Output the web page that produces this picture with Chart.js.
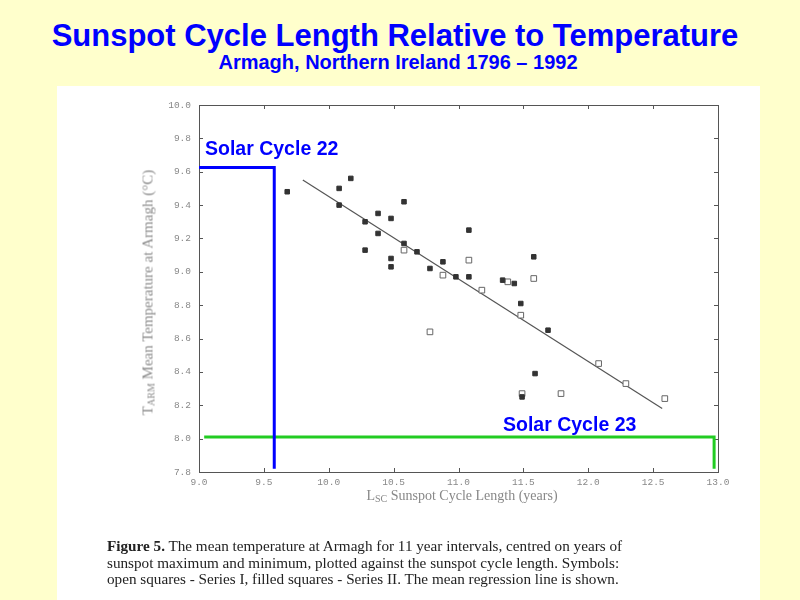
<!DOCTYPE html>
<html>
<head>
<meta charset="utf-8">
<script src="https://cdn.jsdelivr.net/npm/chart.js@4.4.1/dist/chart.umd.min.js"></script>
<style>
  html, body { margin:0; padding:0; }
  body { width:800px; height:600px; background:#FFFFCC; position:relative; overflow:hidden; font-family:"Liberation Sans", Arial, sans-serif; }
  #paper { position:absolute; left:57px; top:86px; width:703px; height:514px; background:#FFFFFF; }
  #title { position:absolute; left:0; width:790px; top:18px; text-align:center; color:#0000FF; font-weight:bold; font-size:31px; line-height:36px; }
  #subtitle { position:absolute; left:0; width:796px; top:50px; text-align:center; color:#0000FF; font-weight:bold; font-size:20px; line-height:24px; }
  canvas { position:absolute; left:0; top:0; }
  .lbl { position:absolute; color:#0000FF; font-weight:bold; font-size:19.5px; line-height:22px; white-space:nowrap; }
  #xtitle { position:absolute; left:362px; width:200px; top:488px; text-align:center; font-family:"Liberation Serif", serif; font-weight:normal; font-size:14px; color:#888; white-space:nowrap; }
  #ytitle { position:absolute; left:18px; top:284px; width:260px; text-align:center; transform:rotate(-90deg); transform-origin:50% 50%; font-family:"Liberation Serif", serif; font-weight:normal; font-size:15px; color:#8c8c8c; white-space:nowrap; }
  sub { font-size:10px; vertical-align:-2px; }
  #caption { position:absolute; left:107px; top:538px; font-family:"Liberation Serif", serif; font-size:15.2px; line-height:16.5px; color:#222; white-space:nowrap; }
</style>
</head>
<body>
<div id="paper"></div>
<div id="title">Sunspot Cycle Length Relative to Temperature</div>
<div id="subtitle">Armagh, Northern Ireland 1796 – 1992</div>
<canvas id="c" width="800" height="600"></canvas>
<div class="lbl" style="left:205px; top:137px;">Solar Cycle 22</div>
<div class="lbl" style="left:503px; top:413px;">Solar Cycle 23</div>
<div id="xtitle">L<sub>SC</sub> Sunspot Cycle Length (years)</div>
<div id="ytitle">T<sub>ARM</sub> Mean Temperature at Armagh (°C)</div>
<div id="caption"><b>Figure 5.</b> The mean temperature at Armagh for 11 year intervals, centred on years of<br>sunspot maximum and minimum, plotted against the sunspot cycle length. Symbols:<br>open squares - Series I, filled squares - Series II. The mean regression line is shown.</div>
<script>
// Tick labels
const xTicks = [9.0, 9.5, 10.0, 10.5, 11.0, 11.5, 12.0, 12.5, 13.0];
const yTicks = [7.8, 8.0, 8.2, 8.4, 8.6, 8.8, 9.0, 9.2, 9.4, 9.6, 9.8, 10.0];

// Series I (open squares): cycle length (years), temperature (°C)
const series1X = [10.58, 11.08, 10.88, 11.18, 11.38, 11.58, 11.48, 10.78, 12.08, 12.29, 11.49, 11.79, 12.59];
const series1Y = [9.13, 9.07, 8.98, 8.89, 8.94, 8.96, 8.74, 8.64, 8.45, 8.33, 8.27, 8.27, 8.24];

// Series II (filled squares)
const series2X = [9.68, 10.08, 10.17, 10.08, 10.58, 10.28, 10.38, 10.48, 10.38, 10.58, 10.28, 10.68, 10.48, 10.48, 11.08, 10.88, 10.78, 10.98, 11.08, 11.34, 11.43, 11.58, 11.48, 11.69, 11.59, 11.49];
const series2Y = [9.48, 9.50, 9.56, 9.40, 9.42, 9.30, 9.35, 9.32, 9.23, 9.17, 9.13, 9.12, 9.08, 9.03, 9.25, 9.06, 9.02, 8.97, 8.97, 8.95, 8.93, 9.09, 8.81, 8.65, 8.39, 8.25];

// Mean regression line end points
const regX = [9.80, 12.57];
const regY = [9.55, 8.18];

// Solar Cycle 22 marker (blue)
const cycle22X = [9.0, 9.58, 9.58];
const cycle22Y = [9.625, 9.625, 7.82];

// Solar Cycle 23 marker (green)
const cycle23X = [9.04, 12.97, 12.97];
const cycle23Y = [8.01, 8.01, 7.82];

const pts = (xs, ys) => xs.map((x, i) => ({x: x, y: ys[i]}));

const framePlugin = {
  id: 'frame',
  beforeDatasetsDraw(chart) {
    const {ctx, chartArea: a, scales} = chart;
    ctx.save();
    ctx.strokeStyle = '#555';
    ctx.lineWidth = 1;
    ctx.strokeRect(Math.round(a.left) + 0.5, Math.round(a.top) + 0.5, Math.round(a.right - a.left), Math.round(a.bottom - a.top));
    ctx.beginPath();
    xTicks.forEach(v => {
      const px = Math.round(scales.x.getPixelForValue(v)) + 0.5;
      ctx.moveTo(px, a.bottom); ctx.lineTo(px, a.bottom - 4);
      ctx.moveTo(px, a.top); ctx.lineTo(px, a.top + 4);
    });
    yTicks.forEach(v => {
      const py = Math.round(scales.y.getPixelForValue(v)) + 0.5;
      ctx.moveTo(a.left, py); ctx.lineTo(a.left + 4, py);
      ctx.moveTo(a.right, py); ctx.lineTo(a.right - 4, py);
    });
    ctx.stroke();
    ctx.restore();
  }
};

const tickFont = {family: '"Liberation Mono", "DejaVu Sans Mono", monospace', size: 9.5};

new Chart(document.getElementById('c'), {
  type: 'scatter',
  data: {
    datasets: [
      { label: 'Series I', data: pts(series1X, series1Y), pointStyle: 'rect', pointRadius: 4, backgroundColor: '#FFFFFF', borderColor: '#666', borderWidth: 1, order: 1 },
      { label: 'Series II', data: pts(series2X, series2Y), pointStyle: 'rect', pointRadius: 3.2, backgroundColor: '#333', borderColor: '#333', borderWidth: 1, order: 0 },
      { label: 'Regression', data: pts(regX, regY), showLine: true, pointRadius: 0, borderColor: '#555', borderWidth: 1.2, order: 2 },
      { label: 'Cycle 22', data: pts(cycle22X, cycle22Y), showLine: true, pointRadius: 0, borderColor: '#0000FF', borderWidth: 3, order: 3 },
      { label: 'Cycle 23', data: pts(cycle23X, cycle23Y), showLine: true, pointRadius: 0, borderColor: '#22CC22', borderWidth: 3, order: 3 }
    ]
  },
  options: {
    responsive: false,
    animation: false,
    layout: { padding: { left: 154, right: 82, top: 105, bottom: 98 } },
    plugins: { legend: { display: false }, tooltip: { enabled: false } },
    scales: {
      x: {
        type: 'linear', min: 9, max: 13,
        afterBuildTicks: s => { s.ticks = xTicks.map(v => ({value: v})); },
        afterFit: s => { s.height = 30; },
        grid: { display: false, drawTicks: false },
        border: { display: false },
        ticks: { color: '#888', font: tickFont, padding: 5, maxRotation: 0, autoSkip: false, callback: v => Number(v).toFixed(1) }
      },
      y: {
        type: 'linear', min: 7.8, max: 10.0,
        afterBuildTicks: s => { s.ticks = yTicks.map(v => ({value: v})); },
        afterFit: s => { s.width = 45; },
        grid: { display: false, drawTicks: false },
        border: { display: false },
        ticks: { color: '#888', font: tickFont, padding: 8, autoSkip: false, callback: v => Number(v).toFixed(1) }
      }
    }
  },
  plugins: [framePlugin]
});
</script>
</body>
</html>
